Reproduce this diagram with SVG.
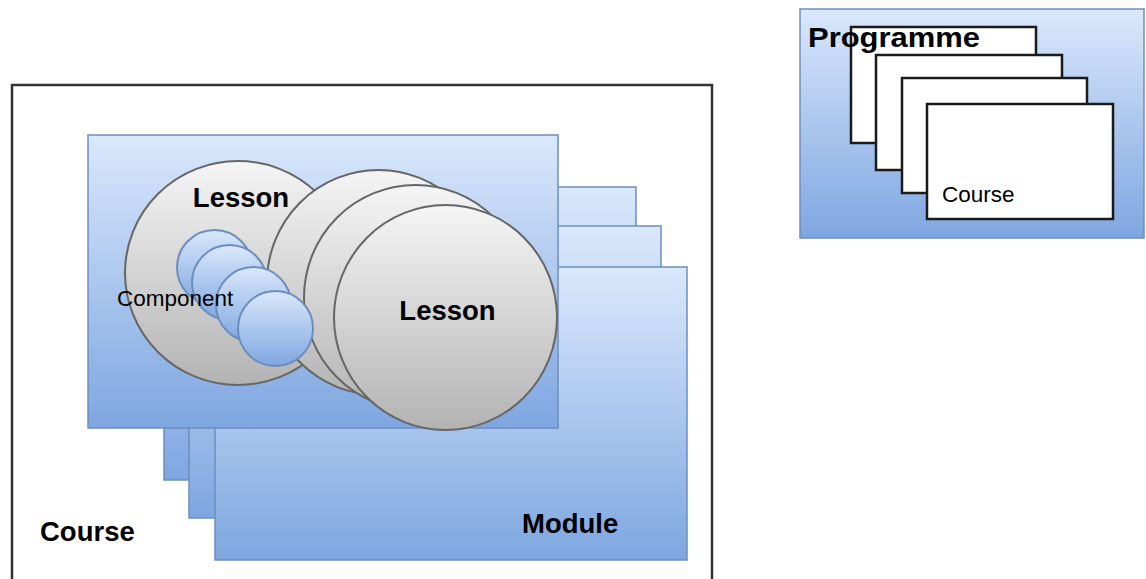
<svg xmlns="http://www.w3.org/2000/svg" width="1146" height="579" viewBox="0 0 1146 579">
  <defs>
    <linearGradient id="blueFill" x1="0" y1="0" x2="0" y2="1">
      <stop offset="0" stop-color="#dae8fc"/>
      <stop offset="1" stop-color="#7ea6e0"/>
    </linearGradient>
    <linearGradient id="greyFill" x1="0" y1="0" x2="0" y2="1">
      <stop offset="0" stop-color="#f5f5f5"/>
      <stop offset="1" stop-color="#b3b3b3"/>
    </linearGradient>
  </defs>
  <style>
    .frame { fill: #ffffff; stroke: #333333; stroke-width: 2.5; }
    .module { fill: url(#blueFill); stroke: #6c8ebf; stroke-width: 1.5; }
    .lesson { fill: url(#greyFill); stroke: #666666; stroke-width: 2; }
    .component { fill: url(#blueFill); stroke: #6c8ebf; stroke-width: 2; }
    .card { fill: #ffffff; stroke: #1a1a1a; stroke-width: 2.5; }
    .bold { font-family: "Liberation Sans", Arial, sans-serif; font-weight: bold; fill: #000000; }
    .plain { font-family: "Liberation Sans", Arial, sans-serif; fill: #000000; }
  </style>

  <rect width="1146" height="579" fill="#ffffff"/>

  <!-- Course container (bottom edge runs off the page) -->
  <g id="course">
    <rect class="frame" x="12" y="85" width="700" height="520"/>
    <text class="bold" x="40" y="541" font-size="27.5">Course</text>
  </g>

  <!-- Stacked modules, back to front -->
  <g id="module-3">
    <rect class="module" x="164" y="187" width="472" height="293"/>
  </g>
  <g id="module-2">
    <rect class="module" x="189" y="226" width="472" height="292"/>
  </g>
  <g id="module-1">
    <rect class="module" x="215" y="267" width="472" height="293"/>
    <text class="bold" x="522" y="533" font-size="27.5">Module</text>
  </g>
  <g id="module-front">
    <rect class="module" x="88" y="135" width="470" height="293"/>
  </g>

  <!-- Lessons -->
  <g id="lesson-1">
    <ellipse class="lesson" cx="238" cy="273" rx="113" ry="112"/>
  </g>
  <g id="lesson-2">
    <ellipse class="lesson" cx="378.5" cy="282.5" rx="111.5" ry="112.5"/>
  </g>
  <g id="lesson-3">
    <ellipse class="lesson" cx="415.5" cy="297.5" rx="111.5" ry="112.5"/>
  </g>
  <g id="lesson-4">
    <ellipse class="lesson" cx="445.5" cy="317.5" rx="111.5" ry="112.5"/>
    <text class="bold" x="447.5" y="320" font-size="27.5" text-anchor="middle">Lesson</text>
  </g>

  <!-- Components inside the first lesson -->
  <g id="component-1">
    <circle class="component" cx="214.5" cy="267.5" r="37.5"/>
  </g>
  <g id="component-2">
    <circle class="component" cx="229.5" cy="282.5" r="37.5"/>
  </g>
  <g id="component-3">
    <circle class="component" cx="253.5" cy="304.5" r="37.5"/>
  </g>
  <g id="component-4">
    <circle class="component" cx="275.5" cy="328.5" r="37.5"/>
  </g>
  <g id="lesson-1-labels">
    <text class="bold" x="241" y="207" font-size="27.5" text-anchor="middle">Lesson</text>
    <text class="plain" x="117" y="306" font-size="22.5">Component</text>
  </g>

  <!-- Programme with its stack of courses -->
  <g id="programme">
    <rect class="module" x="800" y="9" width="344" height="229"/>
  </g>
  <g id="programme-course-1">
    <rect class="card" x="851" y="27" width="185" height="116"/>
  </g>
  <g id="programme-course-2">
    <rect class="card" x="876" y="55" width="186" height="115"/>
  </g>
  <g id="programme-course-3">
    <rect class="card" x="902" y="78" width="185" height="115"/>
  </g>
  <g id="programme-course-4">
    <rect class="card" x="927" y="104" width="186" height="115"/>
    <text class="plain" x="942" y="202" font-size="22.5">Course</text>
  </g>
  <g id="programme-label">
    <text class="bold" x="808" y="47" font-size="28.5" textLength="172" lengthAdjust="spacingAndGlyphs">Programme</text>
  </g>
</svg>
